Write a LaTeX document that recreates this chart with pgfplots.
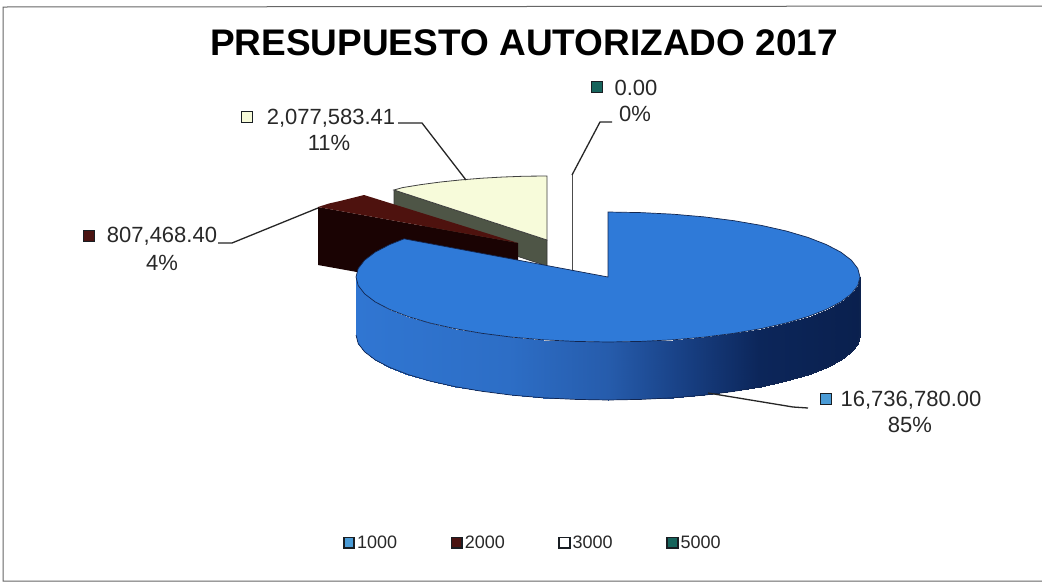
\documentclass[border=0pt]{standalone}
\usepackage{pgfplots}
\pgfplotsset{compat=1.18}
\usepackage{fontspec}
\setmainfont{Liberation Sans}

\definecolor{bluetop}{RGB}{47,122,216}
\definecolor{blueedge}{RGB}{18,38,80}
\definecolor{creamtop}{RGB}{247,251,218}
\definecolor{olive}{RGB}{78,85,70}
\definecolor{redtop}{RGB}{78,18,14}
\definecolor{redside}{RGB}{26,3,3}
\definecolor{txt}{RGB}{40,40,40}
\definecolor{keyblue}{RGB}{74,155,214}
\definecolor{keyred}{RGB}{74,20,18}
\definecolor{keyteal}{RGB}{22,100,92}
\definecolor{keyedge}{RGB}{25,30,35}

\pgfplotsset{colormap={sideblue}{
  rgb255(0cm)=(48,118,210) rgb255(6cm)=(45,110,198) rgb255(10cm)=(38,92,172)
  rgb255(13cm)=(24,64,132) rgb255(16cm)=(12,38,90) rgb255(20cm)=(10,32,78)}}

\newcommand\lab[1]{\fontsize{22}{26}\selectfont #1}

\begin{document}
\begin{tikzpicture}
\begin{axis}[
    at={(0,0)}, anchor=south west,
    scale only axis, width=1042pt, height=582pt,
    xmin=0, xmax=1042, ymin=0, ymax=582,
    y dir=reverse,
    hide axis,
    point meta min=356, point meta max=860,
    legend style={at={(axis cs:339.5,543)}, anchor=west, draw=none, fill=none,
        legend columns=4, font=\fontsize{18}{20}\selectfont, text=txt,
        /tikz/every even column/.append style={column sep=51.5pt}},
    legend image code/.code={\draw[#1,line width=1.8pt] (0pt,-5pt) rectangle (10.5pt,5.5pt);},
    legend cell align=left,
]
% page and frame
\addplot[forget plot, draw=none, fill=white] coordinates {(0,0) (1042,0) (1042,582) (0,582)} -- cycle;
\addplot[forget plot, draw=black!60, line width=1pt] coordinates {(1042,6) (3,7) (3,581) (1042,581)};

% 3000 slice
\addplot[forget plot, fill=olive, draw=black!80, line width=0.6pt] coordinates {(394,190) (547,240) (547,266) (394,216)} -- cycle;
\addplot[forget plot, fill=creamtop, draw=black!75, line width=0.8pt] coordinates {
  (547,240) (547,176) (525,176.2) (503.3,177) (481.8,178.2) (460.8,179.9)
  (440.5,182) (421,184.6) (402.5,187.6) (394,190)} -- cycle;

% 2000 slice
\addplot[forget plot, fill=redside, draw=none] coordinates {(318,207) (518,243) (518,301) (318,265)} -- cycle;
\addplot[forget plot, fill=redtop, draw=none] coordinates {
  (518,243) (364,195) (352,198) (340,201) (329,203.5) (318,207)} -- cycle;

% 5000 slice, zero width
\addplot[forget plot, draw=black!70, line width=0.9pt] coordinates {(572,175) (572,272)};

% 1000 slice, side then top
\addplot[forget plot, surf, shader=interp, colormap name=sideblue, mesh/rows=2, mesh/cols=25, point meta=x] table {
x y
356 277
358.2 285.5
364.6 293.8
375.2 301.9
389.8 309.5
408.1 316.6
429.8 323
454.6 328.6
482 333.3
511.6 337.1
542.8 339.8
575.1 341.4
608 342
640.9 341.4
673.2 339.8
704.4 337.1
734 333.3
761.4 328.6
786.2 323
807.9 316.6
826.2 309.5
840.8 301.9
851.4 293.8
857.8 285.5
860 277
356 335
358.2 343.5
364.6 351.8
375.2 359.9
389.8 367.5
408.1 374.6
429.8 381
454.6 386.6
482 391.3
511.6 395.1
542.8 397.8
575.1 399.4
608 400
640.9 399.4
673.2 397.8
704.4 395.1
734 391.3
761.4 386.6
786.2 381
807.9 374.6
826.2 367.5
840.8 359.9
851.4 351.8
857.8 343.5
860 335
};
\addplot[forget plot, draw=blueedge, line width=0.7pt] coordinates {
  (356,335) (358.2,343.5) (364.6,351.8) (375.2,359.9) (389.8,367.5) (408.1,374.6)
  (429.8,381) (454.6,386.6) (482,391.3) (511.6,395.1) (542.8,397.8) (575.1,399.4)
  (608,400) (640.9,399.4) (673.2,397.8) (704.4,395.1) (734,391.3) (761.4,386.6)
  (786.2,381) (807.9,374.6) (826.2,367.5) (840.8,359.9) (851.4,351.8) (857.8,343.5) (860,335) (860,277)};
\addplot[forget plot, fill=bluetop, draw=blueedge, line width=0.7pt] coordinates {
  (608,277) (608,212) (640.9,212.6) (673.2,214.2) (704.4,216.9) (734,220.7) (761.4,225.4)
  (786.2,231) (807.9,237.4) (826.2,244.5) (840.8,252.1) (851.4,260.2) (857.8,268.5) (860,277)
  (857.8,285.5) (851.4,293.8) (840.8,301.9) (826.2,309.5) (807.9,316.6) (786.2,323)
  (761.4,328.6) (734,333.3) (704.4,337.1) (673.2,339.8) (640.9,341.4) (608,342)
  (575.1,341.4) (542.8,339.8) (511.6,337.1) (482,333.3) (454.6,328.6) (429.8,323)
  (408.1,316.6) (389.8,309.5) (375.2,301.9) (364.6,293.8) (358.2,285.5) (356,277)
  (358.2,268.5) (364.6,260.2) (375.2,252.1) (389.8,244.5) (404.1,238.8)} -- cycle;

% leader lines
\addplot[forget plot, draw=black!85, line width=1.3pt] coordinates {(612,122) (600,122) (572,175)};
\addplot[forget plot, draw=black!85, line width=1.3pt] coordinates {(398,123) (422,123) (466,180)};
\addplot[forget plot, draw=black!85, line width=1.3pt] coordinates {(218,243) (232,243) (318,208)};
\addplot[forget plot, draw=black!85, line width=1.3pt] coordinates {(708,393) (793,407) (808,408)};

% data label keys
\addplot[forget plot, only marks, mark=square*, mark size=5.5pt, mark options={fill=keyteal, draw=keyedge, line width=1pt}] coordinates {(597,87)};
\addplot[forget plot, only marks, mark=square*, mark size=5.5pt, mark options={fill=creamtop, draw=keyedge, line width=1.6pt}] coordinates {(247,117)};
\addplot[forget plot, only marks, mark=square*, mark size=5.5pt, mark options={fill=keyred, draw=keyedge, line width=1pt}] coordinates {(89,236)};
\addplot[forget plot, only marks, mark=square*, mark size=5.5pt, mark options={fill=keyblue, draw=keyedge, line width=1.6pt}] coordinates {(826,399)};

% legend keys
\addlegendimage{draw=keyedge, fill=keyblue}
\addlegendimage{draw=keyedge, fill=keyred}
\addlegendimage{draw=keyedge, fill=white}
\addlegendimage{draw=keyedge, fill=keyteal}
\legend{1000,2000,3000,5000}

% texts
\node[font=\bfseries\fontsize{37}{42}\selectfont, text=black] at (axis cs:524,43) {PRESUPUESTO AUTORIZADO 2017};
\node[text=txt] at (axis cs:636,88) {\lab{0.00}};
\node[text=txt] at (axis cs:635,114) {\lab{0\%}};
\node[text=txt] at (axis cs:331,118) {\lab{2,077,583.41}};
\node[text=txt] at (axis cs:329,143) {\lab{11\%}};
\node[text=txt] at (axis cs:162,236) {\lab{807,468.40}};
\node[text=txt] at (axis cs:162,263) {\lab{4\%}};
\node[text=txt] at (axis cs:911,400) {\lab{16,736,780.00}};
\node[text=txt] at (axis cs:910,425) {\lab{85\%}};
\end{axis}
\end{tikzpicture}
\end{document}
